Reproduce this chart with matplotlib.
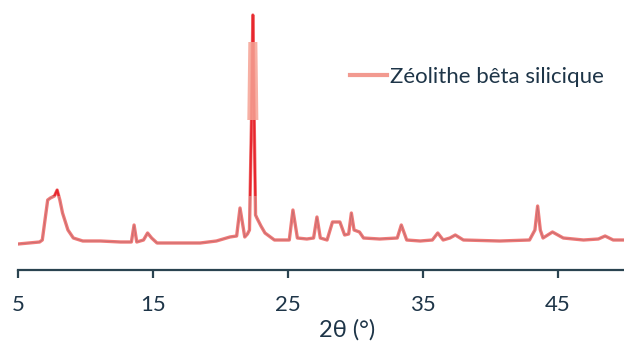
"""XRD pattern of silica beta zeolite, recreated with matplotlib."""
import matplotlib
matplotlib.use('Agg')
import matplotlib.pyplot as plt
from matplotlib.patches import Rectangle

plt.rcParams['font.family'] = ['Lato', 'DejaVu Sans']

# 2theta (deg) and intensity (a.u.)
two_theta = [
    5.0, 5.8, 6.6, 6.8, 7.0, 7.2, 7.4, 7.7, 7.9, 8.1, 8.3, 8.7, 9.1, 9.8,
    11.1, 12.6, 13.4, 13.6, 13.8, 14.3, 14.6, 14.9, 15.3, 16.0, 18.5, 19.7,
    20.7, 21.2, 21.45, 21.8, 22.0, 22.15, 22.3, 22.4, 22.5, 22.6, 22.7,
    23.0, 23.3, 24.0, 25.1, 25.37, 25.7, 26.4, 26.9, 27.15, 27.4, 27.9, 28.3,
    28.85, 29.2, 29.5, 29.7, 29.9, 30.3, 30.6, 31.8, 33.1, 33.4, 33.8, 34.8,
    35.7, 36.1, 36.5, 37.0, 37.4, 38.0, 40.7, 42.9, 43.3, 43.5, 43.7, 43.9,
    44.6, 45.4, 46.9, 48.0, 48.5, 49.1, 49.9,
]
intensity = [
    26, 27, 28, 30, 50, 70, 72, 74, 80, 70, 57, 40, 32, 29,
    29, 28, 28, 45, 28, 30, 37, 32, 27, 27, 27, 29,
    33, 34, 62, 33, 36, 40, 150, 255, 150, 55, 52,
    44, 37, 30, 30, 60, 32, 31, 32, 53, 32, 30, 48,
    48, 35, 36, 57, 40, 38, 32, 31, 32, 45, 30, 29,
    30, 37, 30, 32, 35, 30, 29, 30, 40, 64, 40, 32,
    38, 32, 30, 31, 34, 30, 30,
]

xticks = [5, 15, 25, 35, 45]
legend_label = 'Zéolithe bêta silicique'
xlabel = '2θ (°)'

LINE = '#f07a78'
CORE = '#7d5866'
PEAK = '#e8262e'
BAND = '#f6a294'
INK = '#1e3548'
SPINE = '#2a4350'

fig = plt.figure(figsize=(6.24, 3.43), dpi=100)
ax = fig.add_axes([18 / 624, 73 / 343, 606 / 624, 270 / 343])

ax.plot(two_theta, intensity, color=LINE, lw=2.4, label=legend_label,
        solid_joinstyle='round')
# thin dusky core seen along the trace in the scan
ax.plot(two_theta, intensity, color=CORE, lw=0.6, alpha=0.4)

# the upper part of the strong reflections looks saturated red in the scan
red = ax.plot(two_theta, intensity, color=PEAK, lw=1.5)[0]
red.set_clip_path(Rectangle((0, 74 / 270), 1, 1, transform=ax.transAxes))

# lighter, wider band on the 22.4 deg reflection
band = ax.plot(two_theta, intensity, color=BAND, lw=6, alpha=0.85)[0]
band.set_clip_path(Rectangle((0, 150 / 270), 1, 78 / 270,
                             transform=ax.transAxes))

ax.set_xlim(5, 49.9)
ax.set_ylim(0, 270)
ax.set_xticks(xticks)
ax.set_xticklabels([str(t) for t in xticks])
ax.set_yticks([])
for s in ('top', 'right', 'left'):
    ax.spines[s].set_visible(False)
ax.spines['bottom'].set_color(SPINE)
ax.spines['bottom'].set_linewidth(1.6)
ax.tick_params(axis='x', direction='out', length=6, width=1.6, color=SPINE,
               pad=12, labelsize=16, labelcolor=INK)
ax.set_xlabel(xlabel, fontsize=17, color=INK)
ax.xaxis.set_label_coords((347 - 18) / 606, -(330 - 270) / 270)
ax.xaxis.label.set_va('center')
ax.patch.set_alpha(0)

leg = ax.legend(loc='center left', bbox_to_anchor=(350 / 624, 1 - 77 / 343),
                bbox_transform=fig.transFigure, frameon=False, fontsize=16,
                handlelength=1.67, handletextpad=0.14, borderpad=0,
                borderaxespad=0)
leg.get_lines()[0].set_linewidth(3)
leg.get_lines()[0].set_color('#f29a90')
for t in leg.get_texts():
    t.set_color(INK)

fig.savefig('out.png', dpi=100)
